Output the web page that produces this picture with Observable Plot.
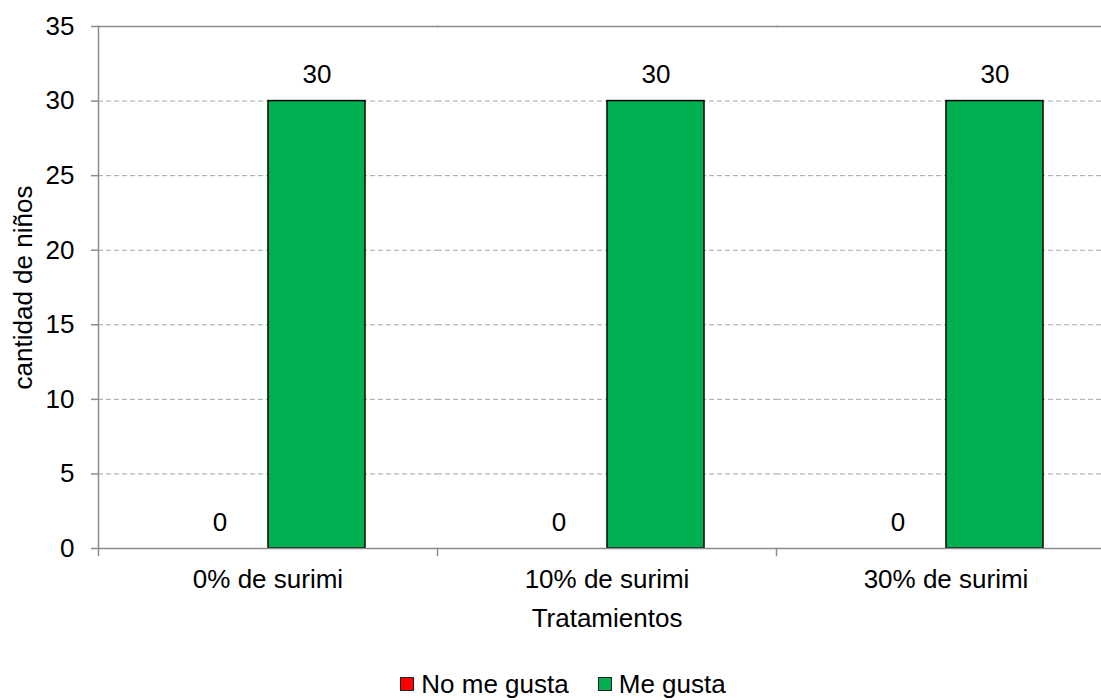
<!DOCTYPE html>
<html>
<head>
<meta charset="utf-8">
<script src="https://cdn.jsdelivr.net/npm/d3@7"></script>
<script src="https://cdn.jsdelivr.net/npm/@observablehq/plot@0.6"></script>
<style>
  html, body { margin: 0; padding: 0; background: #fff; overflow: hidden; }
  #wrap { width: 1101px; height: 700px; overflow: hidden; font-family: "Liberation Sans", Arial, sans-serif; }
  #chart svg { max-width: none !important; display: block; }
  #legend { display: flex; justify-content: center; align-items: center; gap: 29px; padding-top: 11px; padding-left: 25px; font-size: 26px; line-height: 26px; color: #000; }
  .item { display: flex; align-items: center; gap: 7px; }
  .sw { width: 12px; height: 12px; border: 1px solid #222; }
</style>
</head>
<body>
<div id="wrap">
  <div id="chart"></div>
  <div id="legend"></div>
</div>
<script>
const categories = ["0% de surimi", "10% de surimi", "30% de surimi"];
const series = ["No me gusta", "Me gusta"];
const noMeGusta = [0, 0, 0];
const meGusta = [30, 30, 30];
const yTicks = [0, 5, 10, 15, 20, 25, 30, 35];
const gridTicks = [5, 10, 15, 20, 25, 30];
const colors = ["#FF0000", "#00B050"];

const rows = [];
categories.forEach((c, i) => {
  rows.push({cat: c, series: series[0], value: noMeGusta[i]});
  rows.push({cat: c, series: series[1], value: meGusta[i]});
});

const gray = "#8c8c8c";

const chart = Plot.plot({
  width: 1115,
  height: 660,
  marginLeft: 97,
  marginRight: 0,
  marginTop: 26,
  marginBottom: 112,
  style: {fontFamily: "'Liberation Sans', Arial, sans-serif", fontSize: "26px", color: "#000", background: "#fff", maxWidth: "none"},
  fx: {domain: categories, padding: 0},
  x: {domain: series, paddingInner: 0, paddingOuter: 0.747, axis: null},
  y: {domain: [0, 35]},
  color: {domain: series, range: colors},
  marks: [
    Plot.ruleY(gridTicks, {stroke: "#a6a6a6", strokeDasharray: "5,3", strokeWidth: 1}),
    Plot.frame({anchor: "top", stroke: gray, strokeWidth: 1.5}),
    Plot.barY(rows, {fx: "cat", x: "series", y: "value", fill: "series", stroke: "#000", strokeWidth: 1.5}),
    Plot.ruleY([0], {stroke: gray, strokeWidth: 1.5}),
    Plot.frame({anchor: "left", stroke: gray, strokeWidth: 1.5, facetAnchor: "left"}),
    Plot.frame({anchor: "left", stroke: gray, strokeWidth: 1.5, insetTop: 522, insetBottom: -7}),
    Plot.text(rows, {fx: "cat", x: "series", y: "value", text: d => String(d.value), dy: -26, fontSize: 26, fill: "#000"}),
    Plot.axisY({ticks: yTicks, tickSize: 7, tickPadding: 17, stroke: gray, strokeWidth: 1.5, fontSize: 26, label: "cantidad de niños", labelAnchor: "center", labelArrow: "none", labelOffset: 85}),
    Plot.axisFx({anchor: "bottom", tickSize: 0, tickPadding: 21, fontSize: 26, label: "Tratamientos", labelAnchor: "center", labelArrow: "none", labelOffset: 78})
  ]
});
document.getElementById("chart").appendChild(chart);

const legend = document.getElementById("legend");
series.forEach((s, i) => {
  const it = document.createElement("div");
  it.className = "item";
  const sw = document.createElement("span");
  sw.className = "sw";
  sw.style.background = colors[i];
  const tx = document.createElement("span");
  tx.textContent = s;
  it.appendChild(sw);
  it.appendChild(tx);
  legend.appendChild(it);
});
</script>
</body>
</html>
